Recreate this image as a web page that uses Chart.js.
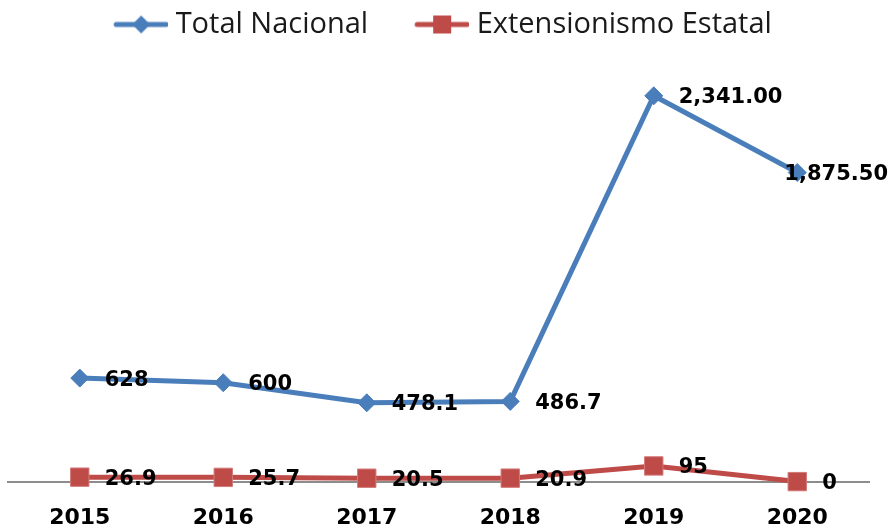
<!DOCTYPE html>
<html>
<head>
    <title>Total Nacional vs Extensionismo Estatal</title>
    <script src="https://cdn.jsdelivr.net/npm/chart.js@4.4.1/dist/chart.umd.min.js"></script>
</head>
<body style="margin: 0; background-color: white;">
    <div style="width: 894px; height: 529px;">
        <canvas id="myChart"></canvas>
    </div>
    <script>
        // Datos
        var anios = ['2015', '2016', '2017', '2018', '2019', '2020'];
        var totalNacional = [628, 600, 478.1, 486.7, 2341, 1875.5];
        var extensionismoEstatal = [26.9, 25.7, 20.5, 20.9, 95, 0];
        // Etiquetas tal como aparecen en la gráfica
        var etiquetasTotal = ['628', '600', '478.1', '486.7', '2,341.00', '1,875.50'];
        var etiquetasEstatal = ['26.9', '25.7', '20.5', '20.9', '95', '0'];

        var azul = '#4A7EBB';
        var rojo = '#BE4B48';

        // Icono de leyenda: línea con marcador (como en Excel)
        function iconoLeyenda(color, forma) {
            var c = document.createElement('canvas');
            c.width = 98;
            c.height = 22;
            var g = c.getContext('2d');
            g.strokeStyle = color;
            g.lineWidth = 5;
            g.lineCap = 'round';
            g.beginPath();
            g.moveTo(46, 11);
            g.lineTo(96, 11);
            g.stroke();
            g.fillStyle = color;
            g.beginPath();
            if (forma === 'diamante') {
                g.moveTo(71, 2); g.lineTo(80, 11); g.lineTo(71, 20); g.lineTo(62, 11);
            } else {
                g.rect(62, 2, 18, 18);
            }
            g.fill();
            return c;
        }
        var iconos = [iconoLeyenda(azul, 'diamante'), iconoLeyenda(rojo, 'cuadro')];

        // Plugin para escribir los valores a la derecha de cada punto
        var etiquetasDatos = {
            id: 'etiquetasDatos',
            afterLayout: function (chart) {
                // centrar la leyenda como en el original
                chart.legend.left -= 14;
                chart.legend.right -= 14;
            },
            afterDatasetsDraw: function (chart) {
                var ctx = chart.ctx;
                var textos = [etiquetasTotal, etiquetasEstatal];
                ctx.save();
                ctx.font = 'bold 21px "DejaVu Sans"';
                ctx.fillStyle = '#000000';
                ctx.textBaseline = 'middle';
                ctx.textAlign = 'left';
                chart.data.datasets.forEach(function (ds, i) {
                    chart.getDatasetMeta(i).data.forEach(function (pt, j) {
                        var t = textos[i][j];
                        var w = ctx.measureText(t).width;
                        var x = Math.min(pt.x + 25, chart.width - w - 6);
                        ctx.fillText(t, x, pt.y + 2);
                    });
                });
                ctx.restore();
            }
        };

        var ctx = document.getElementById('myChart').getContext('2d');
        var myChart = new Chart(ctx, {
            type: 'line',
            data: {
                labels: anios,
                datasets: [{
                    label: 'Total Nacional',
                    data: totalNacional,
                    borderColor: azul,
                    backgroundColor: azul,
                    borderWidth: 5,
                    tension: 0,
                    pointStyle: 'rectRot',
                    pointRadius: 9,
                    pointBorderWidth: 1,
                    clip: false
                }, {
                    label: 'Extensionismo Estatal',
                    data: extensionismoEstatal,
                    borderColor: rojo,
                    backgroundColor: rojo,
                    borderWidth: 5,
                    tension: 0,
                    pointStyle: 'rect',
                    pointRadius: 13,
                    pointBorderWidth: 1,
                    pointBorderColor: '#D27A78',
                    clip: false
                }]
            },
            options: {
                responsive: true,
                maintainAspectRatio: false,
                animation: false,
                layout: {
                    autoPadding: false,
                    padding: { left: 8, right: 25, top: 0, bottom: -25 }
                },
                scales: {
                    x: {
                        offset: true,
                        grid: { display: false, drawTicks: false },
                        border: { display: true, color: '#8C8C8C', width: 2 },
                        ticks: {
                            padding: 23,
                            color: '#000000',
                            font: { family: 'DejaVu Sans', size: 22, weight: 'bold' }
                        }
                    },
                    y: {
                        display: false,
                        min: 0,
                        max: 2625
                    }
                },
                plugins: {
                    legend: {
                        display: true,
                        position: 'top',
                        labels: {
                            usePointStyle: true,
                            pointStyleWidth: 84,
                            padding: 10,
                            color: '#1A1A1A',
                            font: { family: 'Open Sans', size: 29 },
                            generateLabels: function (chart) {
                                var items = Chart.defaults.plugins.legend.labels.generateLabels(chart);
                                items.forEach(function (it, i) { it.pointStyle = iconos[i]; });
                                return items;
                            }
                        }
                    },
                    tooltip: { enabled: false }
                }
            },
            plugins: [etiquetasDatos]
        });
    </script>
</body>
</html>
